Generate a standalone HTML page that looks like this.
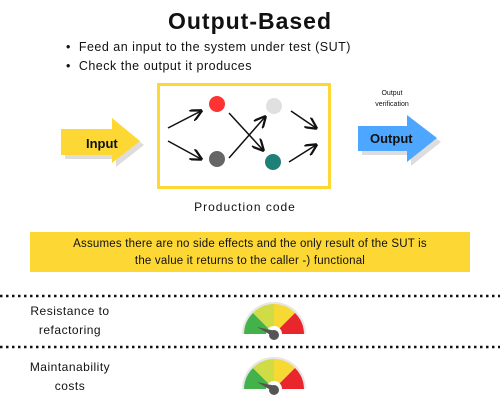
<!DOCTYPE html>
<html><head><style>
body{margin:0;width:500px;height:400px;background:#fff;position:relative;overflow:hidden;font-family:"Liberation Sans",sans-serif;color:#111}
.t{position:absolute;white-space:nowrap}
</style></head><body>
<div class="t" style="left:0;width:500px;text-align:center;top:8px;font-size:23px;font-weight:bold;letter-spacing:1px">Output-Based</div>
<div class="t" style="left:66px;top:40px;font-size:12.5px;letter-spacing:0.5px">•&nbsp;&nbsp;Feed an input to the system under test (SUT)</div>
<div class="t" style="left:66px;top:59px;font-size:12.5px;letter-spacing:0.5px">•&nbsp;&nbsp;Check the output it produces</div>
<svg width="500" height="400" style="position:absolute;left:0;top:0">
<defs><marker id="a" markerWidth="8" markerHeight="8" refX="7" refY="4" orient="auto"><path d="M0,0 L8,4 L0,8" fill="none" stroke="#111" stroke-width="1.5"/></marker></defs>
<polygon points="65,133 116,133 116,122 144,145 116,167 116,159 65,159" fill="#ddd"/>
<polygon points="61,129 112,129 112,118 140,141 112,163 112,155 61,155" fill="#fdd835"/>
<polygon points="362,130 411,130 411,119 441,142 411,166 411,155 362,155" fill="#ddd"/>
<polygon points="358,126 407,126 407,115 437,138 407,162 407,151 358,151" fill="#4da6ff"/>
<rect x="158.5" y="84.5" width="171" height="103" fill="#fff" stroke="#fdd835" stroke-width="3"/>
<circle cx="217" cy="104" r="8" fill="#f33"/>
<circle cx="217" cy="159" r="8" fill="#666"/>
<circle cx="274" cy="106" r="8" fill="#e0e0e0"/>
<circle cx="273" cy="162" r="8" fill="#1f8078"/>
<g stroke="#111" stroke-width="1.5" marker-end="url(#a)">
<line x1="168" y1="128" x2="201" y2="111"/><line x1="168" y1="141" x2="201" y2="159"/>
<line x1="229" y1="113" x2="263" y2="150"/><line x1="229" y1="158" x2="265" y2="117"/>
<line x1="291" y1="111" x2="316" y2="128"/><line x1="289" y1="162" x2="316" y2="145"/>
</g>
<rect x="30" y="232" width="440" height="40" fill="#fdd835"/>
<line x1="0" y1="296" x2="500" y2="296" stroke="#111" stroke-width="2.5" stroke-dasharray="2.5 3.5"/>
<line x1="0" y1="347" x2="500" y2="347" stroke="#111" stroke-width="2.5" stroke-dasharray="2.5 3.5"/>
<g id="g1" transform="translate(274,334)">
<path d="M-32,0 A32,32 0 0 1 32,0 Z" fill="#e6e6e6"/>
<path d="M-30,0 A30,30 0 0 1 -21,-21 L0,0 Z" fill="#43b24a"/>
<path d="M-21,-21 A30,30 0 0 1 0,-30 L0,0 Z" fill="#cfdc45"/>
<path d="M0,-30 A30,30 0 0 1 21,-21 L0,0 Z" fill="#f7d934"/>
<path d="M21,-21 A30,30 0 0 1 30,0 L0,0 Z" fill="#e8262b"/>
<circle r="8" fill="#fff"/>
<polygon points="-17,-7 2,-3 0,3" fill="#555"/>
<circle r="5" cy="1" fill="#555"/>
</g>
<use href="#g1" transform="translate(0,55)"/>
</svg>
<div class="t" style="left:86px;top:136px;font-size:13px;font-weight:bold">Input</div>
<div class="t" style="left:370px;top:131px;font-size:13px;font-weight:bold">Output</div>
<div class="t" style="left:362px;top:88px;width:60px;text-align:center;font-size:7px;line-height:11px">Output<br>verification</div>
<div class="t" style="left:0;width:490px;text-align:center;top:200px;font-size:12px;letter-spacing:1px">Production code</div>
<div class="t" style="left:30px;width:440px;text-align:center;top:236px;font-size:11.5px;line-height:17px;letter-spacing:0.2px">Assumes there are no side effects and the only result of the SUT is<br>the value it returns to the caller -) functional</div>
<div class="t" style="left:10px;width:120px;text-align:center;top:302px;font-size:12px;line-height:19px;letter-spacing:0.5px">Resistance to<br>refactoring</div>
<div class="t" style="left:10px;width:120px;text-align:center;top:358px;font-size:12px;line-height:19px;letter-spacing:0.5px">Maintanability<br>costs</div>
</body></html>
